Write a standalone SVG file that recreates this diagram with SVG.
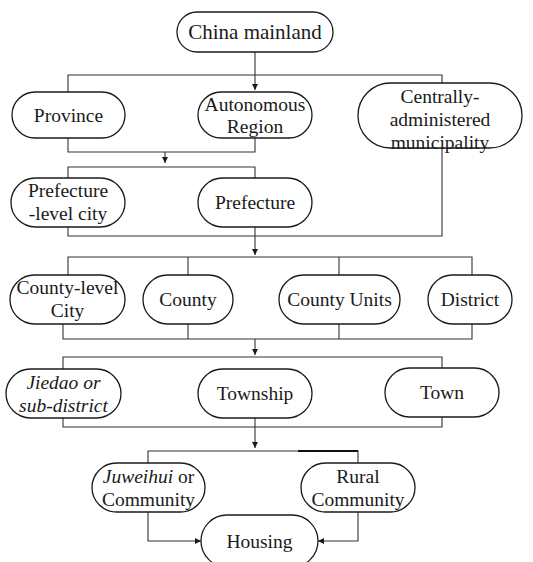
<svg xmlns="http://www.w3.org/2000/svg" width="533" height="562" viewBox="0 0 533 562">
<style>
.n{fill:#fff;stroke:#1a1a1a;stroke-width:1.3}
.t{font-family:"Liberation Serif","Times New Roman",serif;font-size:19.5px;fill:#1a1a1a;text-anchor:middle}
.i{font-style:italic}
.c{fill:none;stroke:#333;stroke-width:1.1}
</style>
<defs>
<marker id="a" viewBox="0 0 10 10" refX="10" refY="5" markerWidth="6" markerHeight="6" orient="auto" markerUnits="userSpaceOnUse">
<path d="M0,0L10,5L0,10z" fill="#1a1a1a"/>
</marker>
</defs>
<rect width="533" height="562" fill="#fff"/>
<g id="connectors">
<path class="c" d="M255,52V90" marker-end="url(#a)"/>
<path class="c" d="M68,92V75H442V83"/>
<path class="c" d="M68,138V152H255V138"/>
<path class="c" d="M165,152V163" marker-end="url(#a)"/>
<path class="c" d="M68,178V167H255V178"/>
<path class="c" d="M68,227V236H442V148"/>
<path class="c" d="M255,227V255" marker-end="url(#a)"/>
<path class="c" d="M68,275V257H472V275M188,257V275M339,257V275"/>
<path class="c" d="M63,324V339H472V324M188,324V339M339,324V339"/>
<path class="c" d="M255,339V355" marker-end="url(#a)"/>
<path class="c" d="M63,369V357H442V368"/>
<path class="c" d="M63,418V427H442V417"/>
<path class="c" d="M255,418V448" marker-end="url(#a)"/>
<path class="c" d="M148,463V451H358V463"/>
<path d="M298,451H358" fill="none" stroke="#111" stroke-width="2"/>
<path class="c" d="M148,512V541H201" marker-end="url(#a)"/>
<path class="c" d="M358,512V541H318" marker-end="url(#a)"/>
</g>
<g id="china"><rect class="n" x="177" y="12" width="156" height="40" rx="20"/><text class="t" x="255" y="39" style="font-size:21px">China mainland</text></g>
<g id="province"><rect class="n" x="12" y="92" width="113" height="46" rx="23"/><text class="t" x="68.5" y="122">Province</text></g>
<g id="autonomous"><rect class="n" x="198" y="92" width="114" height="46" rx="23"/><text class="t" x="255" y="111">Autonomous</text><text class="t" x="255" y="133">Region</text></g>
<g id="municipality"><rect class="n" x="358" y="83" width="164" height="65" rx="32.5"/><text class="t" x="440" y="103">Centrally-</text><text class="t" x="440" y="126">administered</text><text class="t" x="440" y="149">municipality</text></g>
<g id="prefcity"><rect class="n" x="11" y="178" width="114" height="49" rx="24.5"/><text class="t" x="68" y="197">Prefecture</text><text class="t" x="68" y="220">-level city</text></g>
<g id="prefecture"><rect class="n" x="198" y="178" width="114" height="49" rx="24.5"/><text class="t" x="255" y="209">Prefecture</text></g>
<g id="countycity"><rect class="n" x="10" y="275" width="115" height="49" rx="24.5"/><text class="t" x="67.5" y="294">County-level</text><text class="t" x="67.5" y="317">City</text></g>
<g id="county"><rect class="n" x="143" y="275" width="90" height="49" rx="24.5"/><text class="t" x="188" y="306">County</text></g>
<g id="countyunits"><rect class="n" x="279" y="275" width="121" height="49" rx="24.5"/><text class="t" x="339.5" y="306">County Units</text></g>
<g id="district"><rect class="n" x="428" y="275" width="84" height="49" rx="24.5"/><text class="t" x="470" y="306">District</text></g>
<g id="jiedao"><rect class="n" x="6" y="369" width="115" height="49" rx="24.5"/><text class="t i" x="63.5" y="389">Jiedao or</text><text class="t i" x="63.5" y="412">sub-district</text></g>
<g id="township"><rect class="n" x="198" y="369" width="114" height="49" rx="24.5"/><text class="t" x="255" y="400">Township</text></g>
<g id="town"><rect class="n" x="385" y="368" width="114" height="49" rx="24.5"/><text class="t" x="442" y="399">Town</text></g>
<g id="juweihui"><rect class="n" x="92" y="463" width="113" height="49" rx="24.5"/><text class="t" x="148.5" y="483"><tspan class="i">Juweihui</tspan> or</text><text class="t" x="148.5" y="506">Community</text></g>
<g id="rural"><rect class="n" x="301" y="463" width="114" height="49" rx="24.5"/><text class="t" x="358" y="483">Rural</text><text class="t" x="358" y="506">Community</text></g>
<g id="housing"><rect class="n" x="201" y="515" width="117" height="52" rx="26"/><text class="t" x="259.5" y="548">Housing</text></g>
</svg>
